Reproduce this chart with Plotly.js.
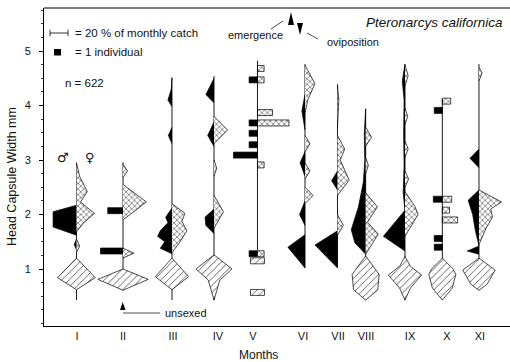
<!DOCTYPE html>
<html><head><meta charset="utf-8">
<script src="https://cdn.plot.ly/plotly-3.0.1.min.js"></script>
<style>html,body{margin:0;padding:0;background:#fff}#chart{width:510px;height:362px}</style>
</head><body><div id="chart"></div>
<script>
// ---- DATA (y = head capsule width in mm, w = % of monthly catch) ----
const months = ['I','II','III','IV','V','VI','VII','VIII','IX','X','XI'];
// x positions (in % units) of the month labels and of the sampling lines
const monthLabelPos = [36.7, 87.8, 143.3, 193.3, 232.2, 287.8, 326.7, 357.8, 406.7, 447.8, 484.4];
const samplePos     = [36.1, 87.8, 142.2, 188.9, 237.2, 290.0, 326.1, 357.4, 401.1, 442.6, 483.3];
const lineTop       = [2.95, 2.96, 4.51, 4.54, 4.82, 4.76, 4.39, 3.94, 4.76, 4.12, 4.76];
const lineBottom    = [0.43, 0.61, 0.43, 0.43, 1.35, 1.02, 1.02, 0.43, 0.43, 0.43, 0.61];

// kite profiles [mm, %]
const maleI = [[[2.17,0],[2.05,26],[1.77,26],[1.62,0]], [[1.55,0],[1.45,2.5],[1.35,0]]];
const femaleI = [[[2.95,0],[2.7,3.5],[2.42,12],[2.23,4.5],[2.02,20],[1.85,8],[1.68,0]], [[1.55,0],[1.42,3.5],[1.3,0]]];
const unsexedI = [[1.2,0],[0.84,21],[0.62,0]];

const maleII = [];
const femaleII = [[[2.92,0],[2.8,5],[2.68,0]], [[2.55,0],[2.23,26],[1.9,0]], [[1.38,0],[1.29,12],[1.2,0]]];
const unsexedII = [[1.0,0],[0.81,28],[0.61,0]];

const maleIII = [[[4.51,0],[4.3,0.8],[4.1,4.5],[3.98,0]], [[3.6,0],[3.45,4],[3.3,0]], [[2.12,0],[1.95,7],[1.85,4.5],[1.7,13],[1.6,16],[1.5,8],[1.38,13],[1.28,0]]];
const femaleIII = [[[2.2,0],[2.02,14.5],[1.88,11],[1.7,16.5],[1.5,9],[1.3,0]]];
const unsexedIII = [[1.2,0],[0.86,18.5],[0.62,0]];

const maleIV = [[[4.5,0],[4.2,9],[4.05,0]], [[3.7,0],[3.45,7],[3.25,0]], [[2.1,0],[1.95,10],[1.8,9],[1.65,0]]];
const femaleIV = [[[3.8,0],[3.55,15],[3.3,0]], [[3.0,0],[2.85,3],[2.7,0]], [[2.35,0],[2.05,10.5],[1.75,0]]];
const unsexedIV = [[1.26,0],[1.0,20],[0.8,6.5],[0.43,0]];

const maleV = []; const femaleV = []; const unsexedV = null;

const maleVI = [[[4.2,0],[3.9,3.5],[3.55,0]], [[3.15,0],[2.95,5.5],[2.7,0]], [[2.25,0],[2.0,6],[1.8,0]], [[1.63,0],[1.4,19],[1.02,0]]];
const femaleVI = [[[4.74,0],[4.4,11],[4.1,3],[3.85,0]], [[3.45,0],[3.3,5.5],[3.15,0]], [[2.95,0],[2.8,5.5],[2.65,0]], [[2.5,0],[2.35,9],[2.2,0]]];

const maleVII = [[[2.8,0],[2.62,6.5],[2.45,0]], [[1.7,0],[1.44,25],[1.02,0]]];
const femaleVII = [[[4.38,0],[4.1,1.5],[3.6,0]], [[3.45,0],[3.2,8],[3.0,3],[2.63,13],[2.35,0]], [[2.0,0],[1.8,6.5],[1.62,0]]];

const maleVIII = [[[3.94,0],[3.5,1.5],[3.0,1],[2.6,2.5],[2.14,8],[1.72,16],[1.48,12],[1.27,0]]];
const femaleVIII = [[[3.6,0],[3.42,6.5],[3.25,0]], [[3.05,0],[2.9,3],[2.75,0]], [[2.4,0],[2.14,13],[1.86,2],[1.64,14],[1.27,0]]];
const unsexedVIII = [[1.24,0],[0.9,15],[0.62,13.5],[0.43,0]];

const maleIX = [[[4.76,0],[4.45,3],[4.1,1],[3.5,1.5],[2.9,1],[2.4,2],[2.08,0],[1.6,24],[1.33,0]]];
const femaleIX = [[[4.74,0],[4.55,3.5],[4.35,0]], [[3.95,0],[3.8,3],[3.65,0]], [[3.35,0],[3.2,3.5],[3.05,0]], [[2.8,0],[2.65,4],[2.5,0]], [[2.42,0],[2.15,11],[2.0,14.5],[1.6,0]]];
const unsexedIX = [[1.23,0],[1.05,6],[0.89,18.5],[0.65,6],[0.43,0]];

const maleX = []; const femaleX = [];
const unsexedX = [[1.2,0],[1.0,12],[0.9,15],[0.65,11],[0.43,0]];

const maleXI = [[[3.2,0],[3.03,10],[2.86,0]], [[2.45,0],[2.26,12],[2.0,7],[1.7,4],[1.5,1],[1.42,0]], [[1.42,0],[1.33,13],[1.27,0]]];
const femaleXI = [[[4.7,0],[4.6,3.5],[4.45,0]], [[2.45,0],[2.23,25],[2.1,13],[1.95,15],[1.75,8],[1.45,0]]];
const unsexedXI = [[1.2,0],[0.98,18],[0.72,9],[0.61,0]];

// single individuals [mm, %]
const maleBarsII = [[2.07,17],[1.33,25]];
const maleBarsV = [[4.47,9.3],[3.68,9.3],[3.49,9.3],[3.28,9.3],[3.09,26.7],[1.28,9.3]];
const femaleBarsV = [[4.68,7.4],[4.47,7.4],[3.87,16.7],[3.68,35],[2.91,7.4],[1.28,7.4]];
const unsexedBarsV = [[1.15,15.5],[0.57,15.5]];
const maleBarsX = [[3.91,9],[2.28,10],[1.56,9],[1.4,9]];
const femaleBarsX = [[4.08,9.3],[2.28,10.4],[2.08,8],[1.9,17]];

const yTicks = [1,2,3,4,5];
const scaleBarPct = 20;

// ---- BUILD ----
const males = [maleI,maleII,maleIII,maleIV,maleV,maleVI,maleVII,maleVIII,maleIX,maleX,maleXI];
const females = [femaleI,femaleII,femaleIII,femaleIV,femaleV,femaleVI,femaleVII,femaleVIII,femaleIX,femaleX,femaleXI];
const unsexed = [unsexedI,unsexedII,unsexedIII,unsexedIV,unsexedV,null,null,unsexedVIII,unsexedIX,unsexedX,unsexedXI];

const LW = 0.7;
const femPattern = {shape:'x', size:4, solidity:0.25, fgcolor:'#333', bgcolor:'#fff'};
const unsPattern = {shape:'/', size:5, solidity:0.14, fgcolor:'#222', bgcolor:'#fff'};
const traces = [];

// central sampling lines
months.forEach((m,i)=>{
  traces.push({type:'scatter', mode:'lines', x:[samplePos[i],samplePos[i]], y:[lineBottom[i],lineTop[i]],
    line:{color:'#000', width:0.9}, hoverinfo:'skip'});
});

function side(c, prof, sign, kind){
  const t = {type:'scatter', mode:'lines', x:prof.map(p=>c+sign*p[1]), y:prof.map(p=>p[0]),
    fill:'toself', line:{color:'#000', width:LW}, hoverinfo:'skip'};
  if(kind==='m'){ t.fillcolor='#000'; }
  else { t.fillcolor='#fff'; t.fillpattern=femPattern; }
  traces.push(t);
}
males.forEach((list,i)=>list.forEach(p=>side(samplePos[i],p,-1,'m')));
females.forEach((list,i)=>list.forEach(p=>side(samplePos[i],p,1,'f')));
unsexed.forEach((prof,i)=>{
  if(!prof) return;
  const c = samplePos[i];
  const xs = prof.map(p=>c+p[1]).concat(prof.slice().reverse().map(p=>c-p[1]));
  const ys = prof.map(p=>p[0]).concat(prof.slice().reverse().map(p=>p[0]));
  traces.push({type:'scatter', mode:'lines', x:xs, y:ys, fill:'toself', fillcolor:'#fff',
    fillpattern:unsPattern, line:{color:'#000', width:LW}, hoverinfo:'skip'});
});

function bars(c, data, sign, kind){
  const t = {type:'bar', orientation:'h', y:data.map(d=>d[0]), width:0.11,
    x:data.map(d=> kind==='u' ? d[1] : sign*d[1]),
    base:data.map(d=> kind==='u' ? c-d[1]/2 : c),
    marker:{color: kind==='m' ? '#000' : '#fff', line:{color:'#000', width:LW}}, hoverinfo:'skip'};
  if(kind==='f') t.marker.pattern = femPattern;
  if(kind==='u') t.marker.pattern = unsPattern;
  traces.push(t);
}
bars(samplePos[1], maleBarsII, -1, 'm');
bars(samplePos[4], maleBarsV, -1, 'm');
bars(samplePos[4], femaleBarsV, 1, 'f');
bars(samplePos[4], unsexedBarsV, 1, 'u');
bars(samplePos[9], maleBarsX, -1, 'm');
bars(samplePos[9], femaleBarsX, 1, 'f');

// ---- DECORATION (pixel -> paper helpers) ----
const L=44, R=510, T=8, B=326;
const px = v => (v-L)/(R-L);
const py = v => (B-v)/(B-T);
const FONT = 'Liberation Sans, Arial, Helvetica, sans-serif';

function ann(x,y,text,size,opts){
  return Object.assign({xref:'paper', yref:'paper', x:px(x), y:py(y), text:text, showarrow:false,
    font:{family:FONT, size:size, color:'#111'}, xanchor:'left', yanchor:'middle'}, opts||{});
}
const annotations = [
  ann(73,33,'= 20 % of monthly catch',11.5),
  ann(73,52,'= 1 individual',11.5),
  ann(63,83,'n = 622',11.5),
  ann(285,35,'emergence',11,{xanchor:'right'}),
  ann(325,42,'oviposition',11),
  ann(505,23,'<i>Pteronarcys californica</i>',13.5,{xanchor:'right'}),
  ann(163,313,'unsexed',11),
  ann(63,157,'♂',13,{xanchor:'center', font:{family:'DejaVu Sans', size:13, color:'#111'}}),
  ann(90,157,'♀',13,{xanchor:'center', font:{family:'DejaVu Sans', size:13, color:'#111'}}),
  ann(258,355,'Months',12,{xanchor:'center'}),
  ann(12,177,'Head Capsule Width mm',12.5,{xanchor:'center', textangle:-90})
];
const yScale = 5.33;
const shapes = [
  {type:'line', xref:'paper', yref:'paper', x0:0, x1:1, y0:1, y1:1, line:{color:'#000', width:1}},
  // 20 % scale bar (in data units)
  {type:'line', xref:'x', yref:'y', x0:6.7, x1:6.7+scaleBarPct, y0:yScale, y1:yScale, line:{color:'#000', width:0.8}},
  {type:'line', xref:'x', yref:'y', x0:6.7, x1:6.7, y0:yScale-0.06, y1:yScale+0.06, line:{color:'#000', width:0.8}},
  {type:'line', xref:'x', yref:'y', x0:6.7+scaleBarPct, x1:6.7+scaleBarPct, y0:yScale-0.06, y1:yScale+0.06, line:{color:'#000', width:0.8}},
  // 1 individual square
  {type:'rect', xref:'paper', yref:'paper', x0:px(54), x1:px(61), y0:py(55.5), y1:py(49), fillcolor:'#000', line:{width:0}},
  // emergence / oviposition arrows
  {type:'line', xref:'paper', yref:'paper', x0:px(271), y0:py(29), x1:px(283), y1:py(21), line:{color:'#000', width:0.7}},
  {type:'path', xref:'paper', yref:'paper', path:`M${px(288)},${py(25)} L${px(294)},${py(25)} L${px(291)},${py(12)} Z`, fillcolor:'#000', line:{width:0}},
  {type:'path', xref:'paper', yref:'paper', path:`M${px(297)},${py(23)} L${px(303)},${py(23)} L${px(300)},${py(35)} Z`, fillcolor:'#000', line:{width:0}},
  {type:'line', xref:'paper', yref:'paper', x0:px(307), y0:py(33), x1:px(318), y1:py(39), line:{color:'#000', width:0.7}},
  // unsexed marker
  {type:'path', xref:'paper', yref:'paper', path:`M${px(120)},${py(310)} L${px(125.5)},${py(310)} L${px(122.7)},${py(302)} Z`, fillcolor:'#000', line:{width:0}},
  {type:'line', xref:'paper', yref:'paper', x0:px(123), y0:py(313), x1:px(160), y1:py(313), line:{color:'#000', width:0.7}}
];

const layout = {
  width:510, height:362, margin:{l:L, r:510-R, t:T, b:362-B}, showlegend:false,
  paper_bgcolor:'#fff', plot_bgcolor:'#fff', barmode:'overlay',
  xaxis:{range:[0,(R-L)/0.9], showline:true, linecolor:'#000', linewidth:1, ticks:'', showgrid:false, zeroline:false,
    tickmode:'array', tickvals:monthLabelPos, ticktext:months, tickfont:{family:FONT, size:11, color:'#111'}},
  yaxis:{range:[1-(B-269)/54.5, 1+(269-T)/54.5], showline:true, linecolor:'#000', linewidth:1, ticks:'outside', ticklen:4,
    tickcolor:'#000', tickwidth:1, showgrid:false, zeroline:false, tickmode:'array', tickvals:yTicks, ticklabelstandoff:6,
    tickfont:{family:FONT, size:11, color:'#111'},
    minor:{tickmode:'linear', tick0:0, dtick:0.25, ticks:'outside', ticklen:2.5, tickcolor:'#000', tickwidth:0.8}},
  annotations:annotations, shapes:shapes
};
Plotly.newPlot('chart', traces, layout, {staticPlot:true, displayModeBar:false});
</script>
</body></html>
